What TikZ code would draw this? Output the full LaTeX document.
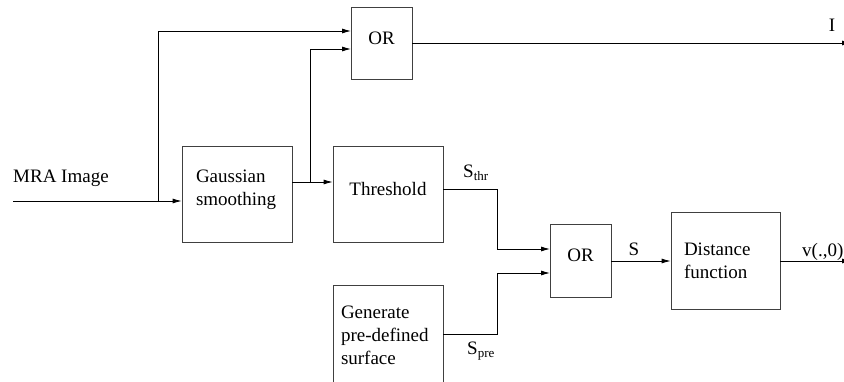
\documentclass[tikz,border=0pt]{standalone}
\usepackage{fontspec}
\setmainfont{Liberation Serif}
\usetikzlibrary{arrows.meta}
\begin{document}
\begin{tikzpicture}[x=1pt,y=-1pt,
  txt/.style={font=\fontsize{19}{23}\selectfont, inner sep=0pt},
  blk/.style={draw=black!75, line width=0.8pt, font=\fontsize{19}{23}\selectfont, inner sep=0pt, align=left},
  conn/.style={draw=black, line width=0.8pt},
  arr/.style={conn, -{Latex[length=9pt,width=5pt]}}
]
\useasboundingbox (0,0) rectangle (844,381);
\clip (0,0) rectangle (844,381);
% blocks
\node[blk, minimum width=61pt, minimum height=72pt, align=center, text depth=10pt] (or1) at (381.5,43) {OR};
\node[blk, minimum width=110pt, minimum height=96pt, text width=82pt, text depth=35pt] (gauss) at (237,194) {Gaussian\\smoothing};
\node[blk, minimum width=110pt, minimum height=96pt, align=center, text depth=10pt] (thr) at (388,194) {Threshold};
\node[blk, minimum width=110pt, minimum height=100pt, text width=94pt] (gen) at (388,335) {Generate\\pre-defined\\surface};
\node[blk, minimum width=61pt, minimum height=73pt, align=center, text depth=10pt] (or2) at (580.5,260.5) {OR};
\node[blk, minimum width=109pt, minimum height=97pt, text width=83pt] (dist) at (725.5,260.5) {Distance\\function};
% labels
\node[txt, anchor=base west] (mra) at (13,182) {MRA Image};
\node[txt, anchor=base] (lI) at (832,31) {I};
\node[txt, anchor=base west] (lthr) at (463,177) {S\raisebox{-0.35ex}{\fontsize{13}{13}\selectfont thr}};
\node[txt, anchor=base west] (lpre) at (467,354) {S\raisebox{-0.35ex}{\fontsize{13}{13}\selectfont pre}};
\node[txt, anchor=base] (lS) at (634,255) {S};
\node[txt, anchor=base west] (lv) at (802,256) {v(.,0)};
% coordinates
\coordinate (in) at (13,201);
\coordinate (b1) at (158,201);
\coordinate (o1a) at (351,31);
\coordinate (g1) at (292,182);
\coordinate (b2) at (310,182);
\coordinate (o1b) at (351,49);
\coordinate (t1) at (443,189);
\coordinate (jx) at (497,189);
\coordinate (o2a) at (550,249);
\coordinate (p1) at (443,334);
\coordinate (o2b) at (550,273);
\coordinate (endI) at (851,43);
\coordinate (endV) at (851,261);
% connectors
\draw[arr] (in) -- (in -| gauss.west);
\draw[arr] (b1) |- (o1a);
\draw[arr] (g1) -- (g1 -| thr.west);
\draw[arr] (b2) |- (o1b);
\draw[arr] (t1) -| (jx) |- (o2a);
\draw[arr] (p1) -| (jx |- o2b) -- (o2b);
\draw[arr] (or2.east |- 0,261) -- (dist.west |- 0,261);
\draw[arr] (or1.east) -- (endI);
\draw[arr] (dist.east |- 0,261) -- (endV);
\end{tikzpicture}
\end{document}
